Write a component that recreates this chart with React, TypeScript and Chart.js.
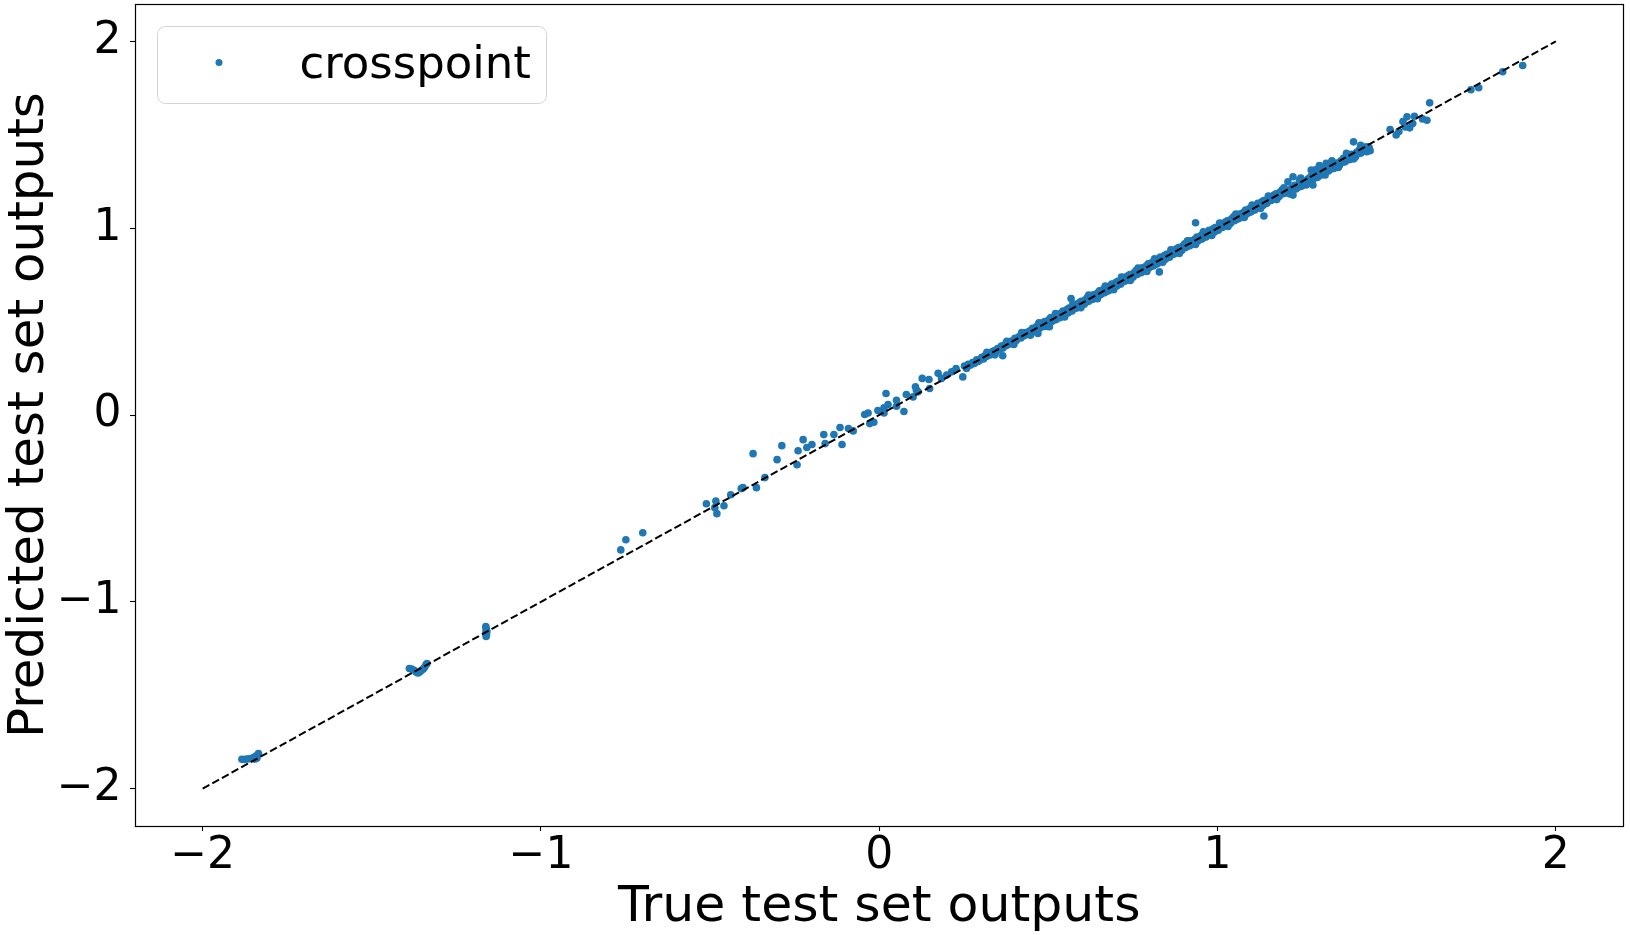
import React, { useEffect, useRef } from 'react';
import { Chart, registerables } from 'chart.js';

Chart.register(...registerables);

type Pt = [number, number];

const seriesLabel = 'crosspoint';
const xAxisTitle = 'True test set outputs';
const yAxisTitle = 'Predicted test set outputs';
const xTickValues = [-2, -1, 0, 1, 2];
const yTickValues = [-2, -1, 0, 1, 2];
const identityLine: Pt[] = [[-2, -2], [2, 2]];

// [true output, predicted output]
const clusterNearMinus185: Pt[] = [
  [-1.884, -1.843], [-1.877, -1.844], [-1.870, -1.841], [-1.862, -1.840], [-1.855, -1.837],
  [-1.848, -1.832], [-1.842, -1.826], [-1.837, -1.819], [-1.835, -1.812], [-1.840, -1.838],
  [-1.846, -1.842],
];

const clusterNearMinus136: Pt[] = [
  [-1.389, -1.357], [-1.382, -1.360], [-1.375, -1.366], [-1.369, -1.376], [-1.364, -1.381],
  [-1.358, -1.374], [-1.353, -1.366], [-1.348, -1.360], [-1.344, -1.350], [-1.340, -1.337],
  [-1.337, -1.330], [-1.361, -1.378],
];

const clusterNearMinus116: Pt[] = [
  [-1.163, -1.132], [-1.162, -1.142], [-1.161, -1.152], [-1.162, -1.161], [-1.163, -1.170],
  [-1.161, -1.178], [-1.162, -1.186], [-1.160, -1.160],
];

const sparseMiddle: Pt[] = [
  [-0.764, -0.722], [-0.749, -0.668], [-0.699, -0.630],
  [-0.511, -0.475], [-0.483, -0.461], [-0.486, -0.496], [-0.480, -0.528], [-0.459, -0.486],
  [-0.439, -0.427], [-0.408, -0.394], [-0.403, -0.389], [-0.373, -0.207], [-0.363, -0.389],
  [-0.338, -0.335], [-0.302, -0.239], [-0.288, -0.164], [-0.243, -0.266], [-0.240, -0.191],
  [-0.225, -0.132], [-0.214, -0.174], [-0.199, -0.158], [-0.164, -0.105], [-0.160, -0.153],
  [-0.134, -0.105], [-0.116, -0.067], [-0.110, -0.158], [-0.091, -0.072], [-0.077, -0.085],
  [-0.043, 0.003], [-0.033, 0.011], [-0.028, -0.046], [-0.016, -0.039], [-0.004, 0.024],
  [0.014, 0.038], [0.020, 0.115], [0.014, 0.011], [0.026, 0.056], [0.051, 0.079],
  [0.051, 0.047], [0.073, 0.019], [0.080, 0.110], [0.100, 0.097], [0.107, 0.151],
  [0.110, 0.133], [0.115, 0.124], [0.127, 0.196], [0.147, 0.190], [0.149, 0.142],
  [0.174, 0.223], [0.184, 0.196], [0.199, 0.214], [0.214, 0.231], [0.227, 0.249],
];

const bandStart: Pt[] = [
  [0.247, 0.204], [0.252, 0.262], [0.258, 0.249], [0.263, 0.271], [0.270, 0.267], [0.276, 0.281],
  [0.281, 0.276], [0.288, 0.296], [0.292, 0.287], [0.297, 0.293], [0.303, 0.309], [0.308, 0.300],
  [0.313, 0.318], [0.318, 0.314], [0.324, 0.331], [0.329, 0.322], [0.334, 0.338], [0.339, 0.343],
  [0.345, 0.337], [0.350, 0.356], [0.355, 0.351], [0.361, 0.369], [0.365, 0.317], [0.366, 0.358],
  [0.371, 0.376], [0.376, 0.372], [0.382, 0.389], [0.386, 0.380], [0.391, 0.396], [0.396, 0.392],
  [0.401, 0.410], [0.405, 0.399], [0.410, 0.413], [0.414, 0.420], [0.419, 0.412], [0.424, 0.429],
  [0.428, 0.424], [0.433, 0.441], [0.437, 0.431], [0.442, 0.446], [0.446, 0.451], [0.450, 0.444],
];

const bandCore: Pt[] = [
  [0.453, 0.464], [0.456, 0.447], [0.459, 0.463], [0.462, 0.449], [0.465, 0.473], [0.468, 0.464],
  [0.471, 0.485], [0.474, 0.464], [0.477, 0.479], [0.480, 0.473], [0.483, 0.493], [0.486, 0.474],
  [0.489, 0.500], [0.492, 0.483], [0.495, 0.499], [0.498, 0.485], [0.501, 0.509], [0.504, 0.500],
  [0.507, 0.521], [0.510, 0.500], [0.513, 0.515], [0.516, 0.509], [0.519, 0.529], [0.522, 0.510],
  [0.525, 0.536], [0.528, 0.519], [0.531, 0.535], [0.534, 0.521], [0.537, 0.545], [0.540, 0.536],
  [0.543, 0.557], [0.546, 0.536], [0.549, 0.551], [0.552, 0.545], [0.555, 0.565], [0.558, 0.546],
  [0.561, 0.572], [0.564, 0.555], [0.567, 0.571], [0.570, 0.557], [0.573, 0.581], [0.576, 0.572],
  [0.579, 0.593], [0.582, 0.572], [0.585, 0.587], [0.588, 0.581], [0.591, 0.601], [0.594, 0.582],
  [0.597, 0.608], [0.600, 0.591], [0.603, 0.607], [0.606, 0.593], [0.609, 0.617], [0.612, 0.608],
  [0.615, 0.629], [0.618, 0.608], [0.621, 0.623], [0.624, 0.617], [0.627, 0.637], [0.630, 0.618],
  [0.633, 0.644], [0.636, 0.627], [0.639, 0.643], [0.642, 0.629], [0.645, 0.653], [0.648, 0.644],
  [0.651, 0.665], [0.654, 0.644], [0.657, 0.659], [0.660, 0.653], [0.663, 0.673], [0.666, 0.654],
  [0.669, 0.680], [0.672, 0.663], [0.675, 0.679], [0.678, 0.665], [0.681, 0.689], [0.684, 0.680],
  [0.687, 0.701], [0.690, 0.680], [0.693, 0.695], [0.696, 0.689], [0.699, 0.709], [0.702, 0.690],
  [0.705, 0.716], [0.708, 0.699], [0.711, 0.715], [0.714, 0.701], [0.717, 0.725], [0.720, 0.716],
  [0.723, 0.737], [0.726, 0.716], [0.729, 0.731], [0.732, 0.725], [0.735, 0.745], [0.738, 0.726],
  [0.741, 0.752], [0.744, 0.735], [0.747, 0.751], [0.750, 0.737], [0.753, 0.761], [0.756, 0.752],
  [0.759, 0.773], [0.762, 0.752], [0.765, 0.767], [0.768, 0.761], [0.771, 0.781], [0.774, 0.762],
  [0.777, 0.788], [0.780, 0.771], [0.783, 0.787], [0.786, 0.773], [0.789, 0.797], [0.792, 0.788],
  [0.795, 0.809], [0.798, 0.788], [0.801, 0.803], [0.804, 0.797], [0.807, 0.817], [0.810, 0.798],
  [0.813, 0.824], [0.816, 0.807], [0.819, 0.823], [0.822, 0.809], [0.825, 0.833], [0.828, 0.824],
  [0.831, 0.845], [0.834, 0.824], [0.837, 0.839], [0.840, 0.833], [0.843, 0.853], [0.846, 0.834],
  [0.849, 0.860], [0.852, 0.843], [0.855, 0.859], [0.858, 0.845], [0.861, 0.869], [0.864, 0.860],
  [0.867, 0.881], [0.870, 0.860], [0.873, 0.875], [0.876, 0.869], [0.879, 0.889], [0.882, 0.870],
  [0.885, 0.896], [0.888, 0.879], [0.891, 0.895], [0.894, 0.881], [0.897, 0.905], [0.900, 0.896],
  [0.903, 0.917], [0.906, 0.896], [0.909, 0.911], [0.912, 0.905], [0.915, 0.925], [0.918, 0.906],
  [0.921, 0.932], [0.924, 0.915], [0.927, 0.931], [0.930, 0.917], [0.933, 0.941], [0.936, 0.932],
  [0.939, 0.953], [0.942, 0.932], [0.945, 0.947], [0.948, 0.941], [0.951, 0.961], [0.954, 0.942],
  [0.957, 0.968], [0.960, 0.951], [0.963, 0.967], [0.966, 0.953], [0.969, 0.977], [0.972, 0.968],
  [0.975, 0.989], [0.978, 0.968], [0.981, 0.983], [0.984, 0.977], [0.987, 0.997], [0.990, 0.978],
  [0.993, 1.004], [0.996, 0.987], [0.999, 1.003], [1.002, 0.989], [1.005, 1.013], [1.008, 1.004],
  [1.011, 1.025], [1.014, 1.004], [1.017, 1.019], [1.020, 1.013], [1.023, 1.033], [1.026, 1.014],
  [1.029, 1.040], [1.032, 1.023], [1.035, 1.039], [1.038, 1.025], [1.041, 1.049], [1.044, 1.040],
  [1.047, 1.061], [1.050, 1.040], [1.053, 1.055], [1.056, 1.049], [1.059, 1.069], [1.062, 1.050],
  [1.065, 1.076], [1.068, 1.059], [1.071, 1.075], [1.074, 1.061], [1.077, 1.085], [1.080, 1.076],
  [1.083, 1.097], [1.086, 1.076], [1.089, 1.091], [1.092, 1.085], [1.095, 1.105], [1.098, 1.086],
  [1.101, 1.112], [1.104, 1.095], [1.107, 1.111], [1.110, 1.097], [1.113, 1.121], [1.116, 1.112],
  [1.119, 1.133], [1.122, 1.112], [1.125, 1.127], [1.128, 1.121], [1.131, 1.141], [1.134, 1.122],
  [1.137, 1.148], [1.140, 1.131], [1.143, 1.147], [1.146, 1.133], [1.149, 1.157], [1.152, 1.148],
  [1.155, 1.169], [1.158, 1.148], [1.161, 1.163], [1.164, 1.157], [1.167, 1.177], [1.170, 1.158],
  [1.173, 1.184], [1.176, 1.167], [1.179, 1.183], [1.182, 1.169], [1.185, 1.193], [1.188, 1.184],
  [1.191, 1.205], [1.194, 1.184], [1.197, 1.199], [1.200, 1.193],
];

const bandUpper: Pt[] = [
  [1.204, 1.203], [1.208, 1.187], [1.212, 1.204], [1.216, 1.191], [1.220, 1.216], [1.224, 1.208],
  [1.228, 1.230], [1.232, 1.210], [1.236, 1.226], [1.240, 1.221], [1.244, 1.242], [1.248, 1.224],
  [1.252, 1.251], [1.256, 1.235], [1.260, 1.252], [1.264, 1.239], [1.268, 1.264], [1.272, 1.256],
  [1.276, 1.278], [1.280, 1.258], [1.284, 1.274], [1.288, 1.269], [1.292, 1.290], [1.296, 1.272],
  [1.300, 1.299], [1.304, 1.283], [1.308, 1.300], [1.312, 1.287], [1.316, 1.312], [1.320, 1.304],
  [1.324, 1.326], [1.328, 1.306], [1.332, 1.322], [1.336, 1.317], [1.340, 1.338], [1.344, 1.320],
  [1.348, 1.347], [1.352, 1.331], [1.356, 1.348], [1.360, 1.335], [1.364, 1.360], [1.368, 1.352],
  [1.372, 1.374], [1.376, 1.354], [1.380, 1.370], [1.384, 1.365], [1.388, 1.386], [1.392, 1.368],
  [1.396, 1.395], [1.400, 1.379], [1.404, 1.396], [1.408, 1.383], [1.412, 1.408], [1.416, 1.400],
  [1.420, 1.422], [1.424, 1.402], [1.428, 1.418], [1.432, 1.413], [1.436, 1.434], [1.440, 1.416],
  [1.444, 1.436], [1.448, 1.432],
];

const bandEdges: Pt[] = [
  [0.318, 0.336], [0.342, 0.322], [0.377, 0.395], [0.398, 0.378], [0.421, 0.441], [0.447, 0.427],
  [0.472, 0.494], [0.497, 0.474], [0.521, 0.543], [0.548, 0.525], [0.572, 0.594], [0.596, 0.574],
  [0.619, 0.642], [0.645, 0.622], [0.668, 0.690], [0.693, 0.671], [0.716, 0.739], [0.742, 0.720],
  [0.765, 0.787], [0.791, 0.768], [0.814, 0.836], [0.838, 0.817], [0.862, 0.884], [0.887, 0.865],
  [0.911, 0.933], [0.935, 0.913], [0.958, 0.980], [0.983, 0.961], [1.006, 1.028], [1.031, 1.009],
  [1.054, 1.076], [1.079, 1.057], [1.102, 1.124], [1.127, 1.105], [1.150, 1.172], [1.175, 1.153],
  [1.196, 1.216], [1.214, 1.183], [1.246, 1.268], [1.262, 1.231], [1.290, 1.312], [1.318, 1.285],
  [1.338, 1.361], [1.357, 1.325], [1.381, 1.401], [1.403, 1.371], [1.423, 1.443], [1.441, 1.409],
];

const outliersAndTail: Pt[] = [
  [0.469, 0.436], [0.503, 0.472], [0.567, 0.624], [0.828, 0.766], [0.935, 1.029], [1.137, 1.065],
  [1.208, 1.248], [1.223, 1.275], [1.223, 1.177], [1.242, 1.258], [1.277, 1.311], [1.282, 1.231],
  [1.301, 1.335], [1.321, 1.347], [1.402, 1.462], [1.451, 1.415],
  [1.510, 1.528], [1.528, 1.499], [1.536, 1.517], [1.548, 1.571], [1.555, 1.542], [1.560, 1.596],
  [1.568, 1.537], [1.577, 1.560], [1.582, 1.599], [1.606, 1.585], [1.619, 1.578], [1.627, 1.671],
  [1.749, 1.741], [1.772, 1.752], [1.843, 1.837], [1.902, 1.871],
];

const FONT = '"DejaVu Sans", "Liberation Sans", sans-serif';
const POINT_COLOR = '#1f77b4';

const fmtTick = (v: number | string) => {
  const n = Number(v);
  return n < 0 ? '\u2212' + Math.abs(n) : String(n);
};

export default function App() {
  const ref = useRef<HTMLCanvasElement>(null);

  useEffect(() => {
    document.body.style.margin = '0';
    const all: Pt[] = [
      ...clusterNearMinus185,
      ...clusterNearMinus136,
      ...clusterNearMinus116,
      ...sparseMiddle,
      ...bandStart,
      ...bandCore,
      ...bandUpper,
      ...bandEdges,
      ...outliersAndTail,
    ];

    const framePlugin = {
      id: 'frame',
      afterDraw(chart: any) {
        const { ctx, chartArea: a } = chart;
        ctx.save();
        ctx.strokeStyle = '#000';
        ctx.lineWidth = 1.2;
        const l = Math.round(a.left) + 0.5;
        const t = Math.round(a.top) + 0.5;
        const r = Math.round(a.right) - 0.5;
        const b = Math.round(a.bottom) + 0.5;
        ctx.strokeRect(l, t, r - l, b - t);
        ctx.restore();
      },
    };

    const legendPlugin = {
      id: 'insideLegend',
      afterDraw(chart: any) {
        const { ctx, chartArea: a } = chart;
        const x = a.left + 22.5;
        const y = a.top + 22.5;
        const w = 389;
        const h = 77;
        ctx.save();
        ctx.beginPath();
        ctx.roundRect(x, y, w, h, 8);
        ctx.fillStyle = 'rgba(255,255,255,0.8)';
        ctx.fill();
        ctx.strokeStyle = '#d4d4d4';
        ctx.lineWidth = 1;
        ctx.stroke();
        ctx.beginPath();
        ctx.arc(x + 61.5, y + 36, 3.5, 0, Math.PI * 2);
        ctx.fillStyle = POINT_COLOR;
        ctx.fill();
        ctx.fillStyle = '#000';
        ctx.font = `45px ${FONT}`;
        ctx.textBaseline = 'middle';
        ctx.textAlign = 'left';
        ctx.fillText(seriesLabel, x + 142, y + 40);
        ctx.restore();
      },
    };

    const chart = new Chart(ref.current!, {
      type: 'scatter',
      data: {
        datasets: [
          {
            label: 'identity',
            data: identityLine.map(([x, y]) => ({ x, y })),
            showLine: true,
            borderColor: '#000',
            borderWidth: 2,
            borderDash: [7.7, 3.3],
            pointRadius: 0,
            fill: false,
            order: 0,
          },
          {
            label: seriesLabel,
            data: all.map(([x, y]) => ({ x, y })),
            backgroundColor: POINT_COLOR,
            borderWidth: 0,
            pointRadius: 3.8,
            order: 1,
          },
        ],
      },
      options: {
        responsive: false,
        animation: false,
        layout: { padding: { top: 4, right: 6.5, left: 0, bottom: 0 } },
        plugins: { legend: { display: false }, tooltip: { enabled: false } },
        scales: {
          x: {
            type: 'linear',
            min: -2.2,
            max: 2.2,
            afterFit: (s: any) => {
              s.height = 109;
              s.paddingLeft = 0;
              s.paddingRight = 0;
              s.paddingTop = 0;
              s.paddingBottom = 0;
            },
            afterBuildTicks: (s: any) => { s.ticks = xTickValues.map((v) => ({ value: v })); },
            ticks: {
              font: { family: FONT, size: 44, lineHeight: 1 },
              color: '#000',
              padding: 3.5,
              maxRotation: 0,
              autoSkip: false,
              callback: fmtTick,
            },
            grid: { drawOnChartArea: false, drawTicks: true, tickLength: 5, color: '#000', tickWidth: 1.1 },
            border: { display: false },
            title: {
              display: true,
              text: xAxisTitle,
              color: '#000',
              font: { family: FONT, size: 50.5, lineHeight: 1 },
              padding: { top: 0, bottom: 1.5 },
            },
          },
          y: {
            type: 'linear',
            min: -2.2,
            max: 2.2,
            afterFit: (s: any) => {
              s.width = 135;
              s.paddingLeft = 0;
              s.paddingRight = 0;
              s.paddingTop = 0;
              s.paddingBottom = 0;
            },
            afterBuildTicks: (s: any) => { s.ticks = yTickValues.map((v) => ({ value: v })); },
            ticks: {
              font: { family: FONT, size: 44 },
              color: '#000',
              padding: 8.5,
              autoSkip: false,
              callback: fmtTick,
            },
            grid: { drawOnChartArea: false, drawTicks: true, tickLength: 5, color: '#000', tickWidth: 1.1 },
            border: { display: false },
            title: {
              display: true,
              text: yAxisTitle,
              color: '#000',
              font: { family: FONT, size: 50, lineHeight: 1.2 },
              padding: 0,
            },
          },
        },
      },
      plugins: [framePlugin, legendPlugin],
    });

    return () => chart.destroy();
  }, []);

  return <canvas ref={ref} width={1630} height={935} style={{ display: 'block' }} />;
}
